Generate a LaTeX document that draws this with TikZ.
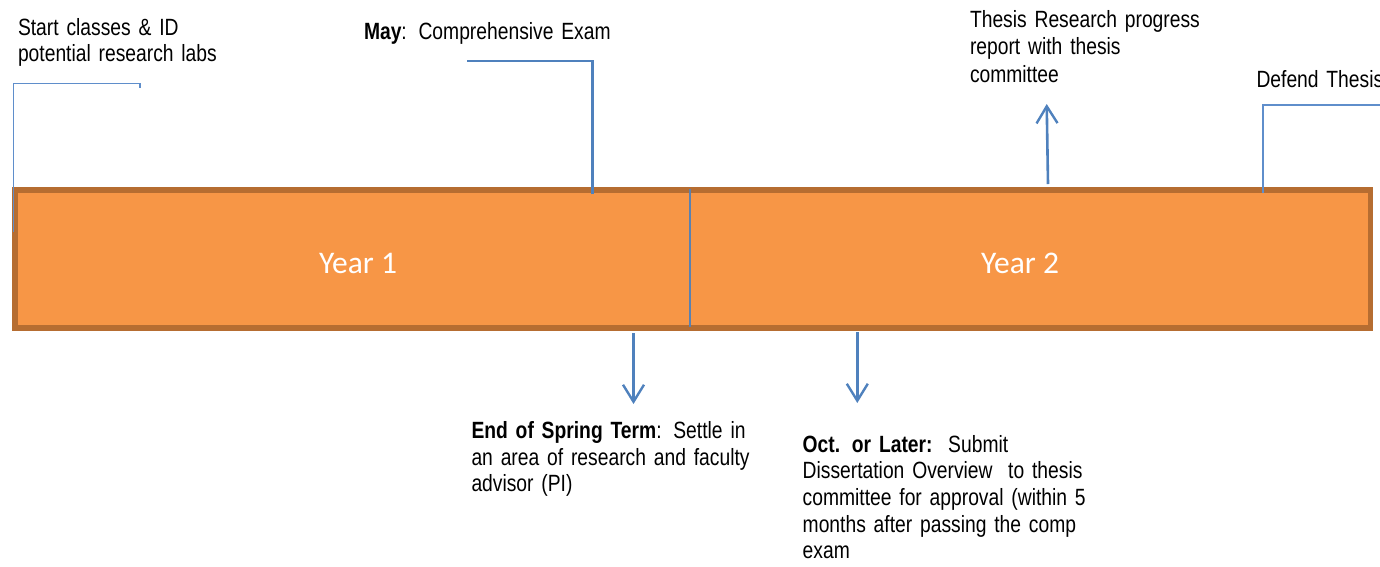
\documentclass[tikz,border=0pt]{standalone}
\usepackage{fontspec}
\setmainfont{Liberation Sans}
\newfontfamily\narrowfont[FakeStretch=0.82]{Liberation Sans}
\newfontfamily\yearfont{Carlito}
\usetikzlibrary{arrows.meta}
\definecolor{barfill}{HTML}{F79646}
\definecolor{barline}{HTML}{B66D31}
\definecolor{linkblue}{HTML}{4F81BD}
\definecolor{lightblue}{HTML}{5F8ECB}
\newcommand{\lblfont}[1]{\narrowfont\fontsize{23.5}{#1}\selectfont\spaceskip=5.2pt plus 1.5pt minus 1pt\relax}
\tikzset{
  lbl/.style={anchor=base west, inner sep=0pt, outer sep=0pt, text width=420pt, align=left,
    font=\lblfont{26.7}},
  yearlbl/.style={text=white, inner sep=0pt, font=\yearfont\fontsize{31.5}{34}\selectfont},
  bracketline/.style={draw=lightblue, line width=1.8pt},
  bracketthick/.style={draw=linkblue, line width=2.1pt},
  evarrow/.style={draw=linkblue, line width=2.6pt, -{Straight Barb[length=17pt,width=21pt,line width=2.4pt]}},
}
\begin{document}
\begin{tikzpicture}[x=1pt,y=-1pt]
\useasboundingbox (0,0) rectangle (1380,566);
\clip (0,0) rectangle (1380,566);
% main bar
\node[draw=barline, fill=barfill, line width=5.3pt, minimum width=1355.5pt, minimum height=138pt, inner sep=0pt, outer sep=0pt, anchor=north west] (bar) at (15,190) {};
\coordinate (divtop) at (690,189);
\coordinate (divbot) at (690,327);
\draw[draw=linkblue!80!gray, line width=2.3pt] (divtop) -- (divbot);
\node[yearlbl] (y1) at (358,263) {Year 1};
\node[yearlbl] (y2) at (1020,263) {Year 2};

% labels
\node[lbl] (start) at (18,35) {Start classes \& ID\\potential research labs};
\node[lbl] (may) at (364,39.3) {\textbf{May}: Comprehensive Exam};
\node[lbl, font=\lblfont{27.4}] (thesis) at (970,27.3) {Thesis Research progress\\report with thesis\\committee};
\node[lbl] (defend) at (1256.5,87.5) {Defend Thesis};
\node[lbl] (spring) at (471.5,438.3) {\textbf{End of Spring Term}: Settle in\\an area of research and faculty\\advisor (PI)};
\node[lbl] (oct) at (802.7,452) {\textbf{Oct. or Later:}\ \ Submit\\Dissertation Overview\ \ to thesis\\committee for approval (within 5\\months after passing the comp\\exam};

% bracket 1
\coordinate (b1a) at (13.5,232);
\coordinate (b1b) at (13.5,83.5);
\coordinate (b1c) at (140,83.5);
\coordinate (b1d) at (140,88);
\draw[bracketline] (b1a) -- (b1b) -- (b1c) -- (b1d);

% bracket 2 (May)
\coordinate (b2a) at (592.5,194);
\coordinate (b2b) at (592.5,60.7);
\coordinate (b2c) at (467,60.7);
\draw[bracketthick] (b2a) -- (b2b) -- (b2c);

% defend bracket
\coordinate (b3a) at (1262.7,193);
\coordinate (b3b) at (1262.7,105);
\coordinate (b3c) at (1385,105);
\draw[bracketline] (b3a) -- (b3b) -- (b3c);

% arrows
\coordinate (a1s) at (1048,184);
\coordinate (a1e) at (1046.7,104);
\draw[evarrow] (a1s) -- (a1e);
\coordinate (a2s) at (633.5,333);
\coordinate (a2e) at (633.5,404);
\draw[evarrow] (a2s) -- (a2e);
\coordinate (a3s) at (857.3,332);
\coordinate (a3e) at (857.3,403);
\draw[evarrow] (a3s) -- (a3e);
\end{tikzpicture}
\end{document}
